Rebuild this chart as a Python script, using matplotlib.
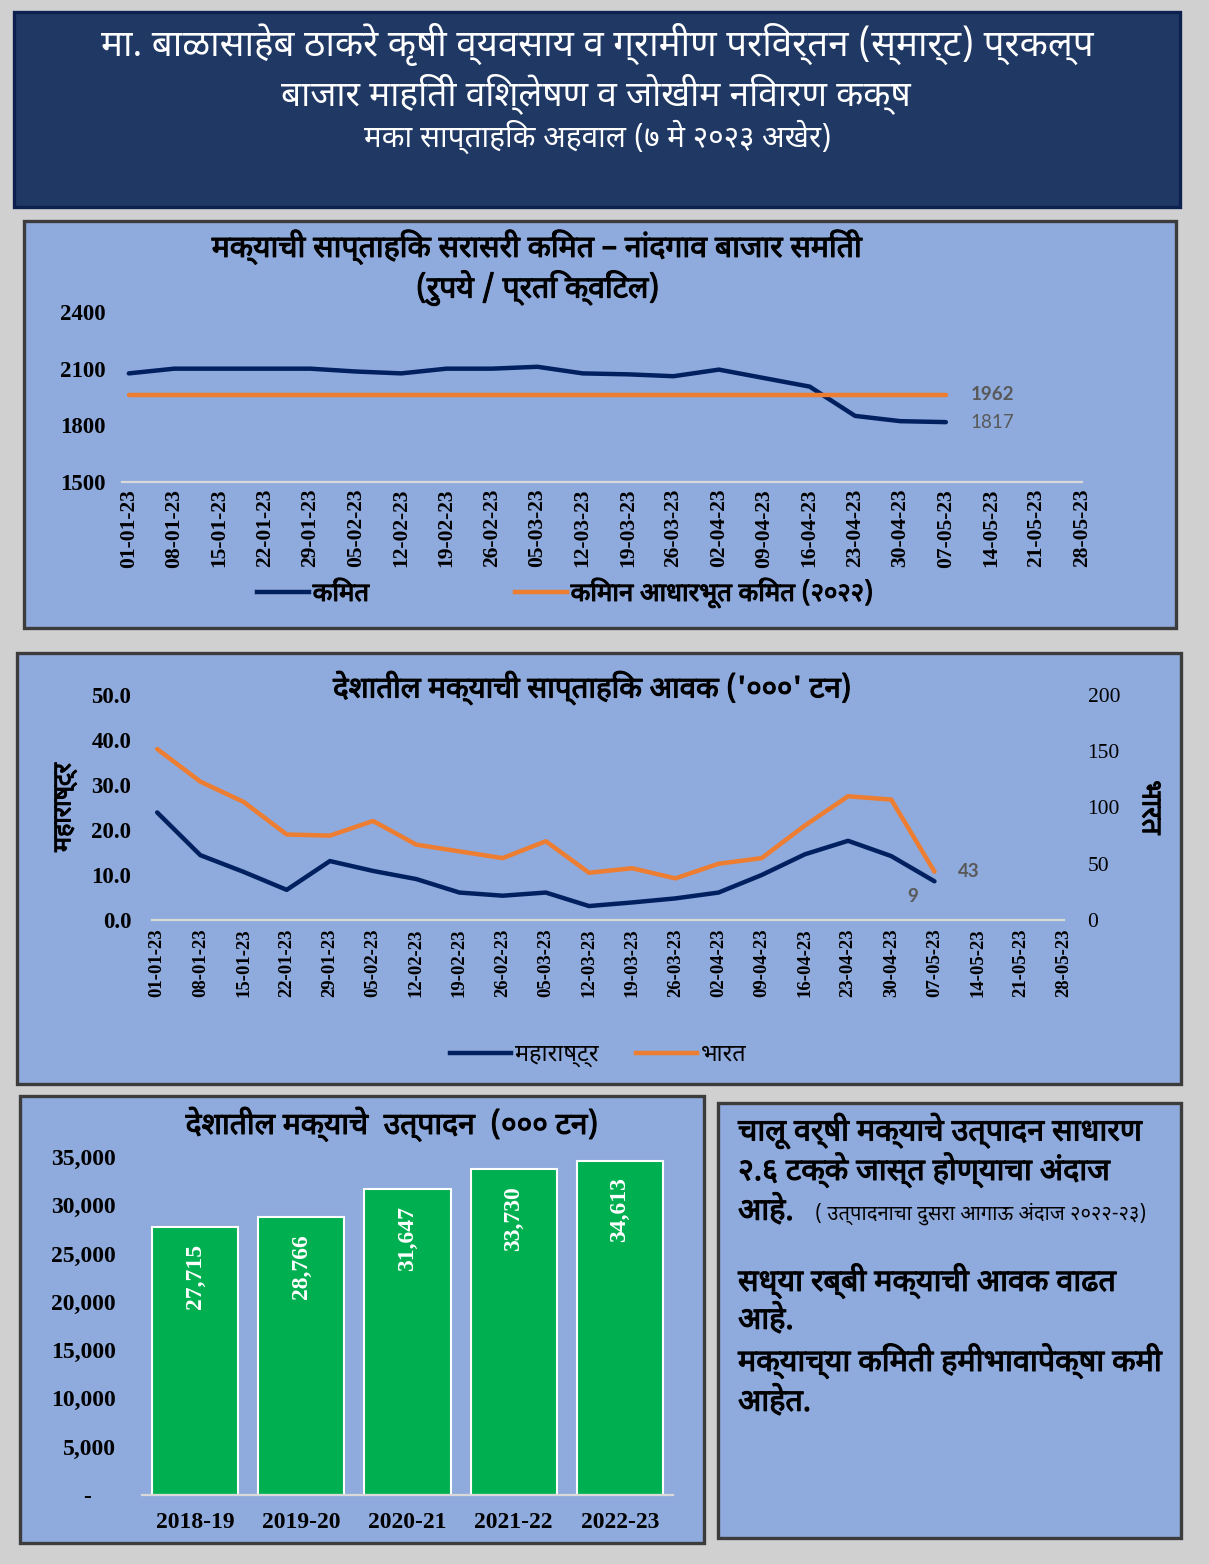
import numpy as np
import matplotlib
matplotlib.use("Agg")
import matplotlib.pyplot as plt
import matplotlib.font_manager as fm
import matplotlib.patheffects as pe
from matplotlib.ft2font import FT2Font
from matplotlib.patches import Rectangle
from matplotlib.lines import Line2D

# ---------------- data ----------------
weeks = ["01-01-23", "08-01-23", "15-01-23", "22-01-23", "29-01-23", "05-02-23",
         "12-02-23", "19-02-23", "26-02-23", "05-03-23", "12-03-23", "19-03-23",
         "26-03-23", "02-04-23", "09-04-23", "16-04-23", "23-04-23", "30-04-23",
         "07-05-23", "14-05-23", "21-05-23", "28-05-23"]

# Nandgaon weekly average price (Rs / quintal)
price = [2075, 2100, 2100, 2100, 2100, 2085, 2075, 2100, 2100, 2110, 2075,
         2070, 2060, 2095, 2050, 2005, 1850, 1822, 1817]
msp = [1962] * len(price)

# weekly arrivals ('000 t)
arr_mh = [23.9, 14.4, 10.7, 6.7, 13.1, 10.9, 9.1, 6.1, 5.4, 6.1, 3.1,
          3.9, 4.8, 6.1, 10.0, 14.6, 17.6, 14.2, 8.6]
arr_india = [152, 123, 105, 76, 75, 88, 67, 61, 55, 70, 42,
             46, 37, 50, 55, 84, 110, 107, 43]

# national production ('000 t)
years = ["2018-19", "2019-20", "2020-21", "2021-22", "2022-23"]
production = [27715, 28766, 31647, 33730, 34613]

# ---------------- fonts ----------------
def find_devanagari():
    found = []
    for f in fm.fontManager.ttflist:
        try:
            if 0x0915 in FT2Font(f.fname).get_charmap():
                found.append(f.name)
        except Exception:
            pass
    for pref in ["Noto Sans Devanagari", "Noto Sans Devanagari UI", "Lohit Devanagari",
                 "Mukta", "FreeSans", "Gargi"]:
        if pref in found:
            return pref
    return found[0] if found else "DejaVu Sans"

DEVA = [find_devanagari(), "DejaVu Sans"]
SERIF = "Liberation Serif"

W, H = 1209, 1564
NAVY = "#002060"
ORANGE = "#ed7d31"
PANEL = "#8faadc"
EDGE = "#3c3c3c"
BOLD = [pe.withStroke(linewidth=0.8, foreground="black")]

fig = plt.figure(figsize=(W / 100, H / 100), dpi=100)
fig.patch.set_facecolor("#d0d0d0")
renderer = fig.canvas.get_renderer()


def frac(x0, y0, x1, y1):
    return [x0 / W, 1 - y1 / H, (x1 - x0) / W, (y1 - y0) / H]


bg = fig.add_axes([0, 0, 1, 1])
bg.set_xlim(0, W)
bg.set_ylim(H, 0)
bg.axis("off")


def panel(x0, y0, x1, y1, face=PANEL, edge=EDGE):
    bg.add_patch(Rectangle((x0, y0), x1 - x0, y1 - y0, facecolor=face,
                           edgecolor=edge, lw=2.4))


def fit(x, y, s, width, ha="center", base=20, **kw):
    t = bg.text(x, y, s, fontsize=base, ha=ha, va="center", family=DEVA, **kw)
    w = t.get_window_extent(renderer).width
    t.set_fontsize(base * width / w)
    return t


panel(14, 12, 1180, 207, face="#203864", edge="#0c2150")
panel(24, 221, 1176, 628)
panel(17, 653, 1181, 1084)
panel(20, 1096, 704, 1543)
panel(718, 1103, 1181, 1538)

# ---------------- header ----------------
fit(597, 44, "मा. बाळासाहेब ठाकरे कृषी व्यवसाय व ग्रामीण परिवर्तन (स्मार्ट) प्रकल्प",
    995, color="white")
fit(596, 94, "बाजार माहिती विश्लेषण व जोखीम निवारण कक्ष", 632, color="white")
fit(598, 137, "मका साप्ताहिक अहवाल (७ मे २०२३ अखेर)", 467, color="white")


def style_axis(ax):
    ax.set_facecolor("none")
    for s in ["top", "left", "right"]:
        ax.spines[s].set_visible(False)
    ax.spines["bottom"].set_color("#d9d9d9")
    ax.spines["bottom"].set_linewidth(1.6)
    ax.tick_params(length=0)


# ---------------- chart 1: price ----------------
ax1 = fig.add_axes(frac(122, 312, 1082, 482))
style_axis(ax1)
x1 = np.arange(len(price))
ax1.plot(x1, price, color=NAVY, lw=3.2, solid_capstyle="round", solid_joinstyle="round")
ax1.plot(x1, msp, color=ORANGE, lw=3.2, solid_capstyle="round")
ax1.set_xlim(-0.15, len(weeks) - 1)
ax1.set_ylim(1500, 2400)
ax1.set_yticks([1500, 1800, 2100, 2400])
ax1.set_xticks(np.arange(len(weeks)))
ax1.set_xticklabels(weeks, rotation=90)
ax1.tick_params(axis="y", pad=12)
ax1.tick_params(axis="x", pad=5)
for lab in ax1.get_yticklabels():
    lab.set(family=SERIF, fontweight="bold", fontsize=16.5)
for lab in ax1.get_xticklabels():
    lab.set(family=SERIF, fontweight="bold", fontsize=15.5)
ax1.annotate(f"{msp[-1]}", (x1[-1], msp[-1]), xytext=(18, 0), textcoords="offset points",
             va="center", ha="left", fontsize=13.5, fontweight="bold", color="#595959",
             family="Lato")
ax1.annotate(f"{price[-1]}", (x1[-1], price[-1]), xytext=(18, 0), textcoords="offset points",
             va="center", ha="left", fontsize=13.5, color="#595959", family="Lato")

t1 = fit(538, 247, "मक्याची साप्ताहिक सरासरी किंमत – नांदगाव बाजार समिती", 652,
         color="black", path_effects=BOLD)
fs1 = t1.get_fontsize()
bg.text(538, 288, "(रुपये / प्रति क्विंटल)", fontsize=fs1, ha="center", va="center",
        family=DEVA, path_effects=BOLD)
leg1 = ax1.legend([Line2D([], [], color=NAVY, lw=3.2), Line2D([], [], color=ORANGE, lw=3.2)],
                  ["किंमत", "किमान आधारभूत किंमत (२०२२)"], ncol=2, frameon=False,
                  loc="center", bbox_to_anchor=((565 - 122) / 960, -(593 - 482) / 170),
                  handlelength=2.0, handletextpad=0.15, columnspacing=5.7,
                  prop={"family": DEVA, "size": fs1 * 0.85})
for txt in leg1.get_texts():
    txt.set_path_effects(BOLD)

# ---------------- chart 2: arrivals ----------------
ax2 = fig.add_axes(frac(152, 695, 1064, 920))
style_axis(ax2)
x2 = np.arange(len(arr_mh))
ax2.plot(x2, arr_mh, color=NAVY, lw=3.2, solid_capstyle="round", solid_joinstyle="round")
ax2.set_xlim(-0.12, len(weeks) - 1)
ax2.set_ylim(0, 50)
ax2.set_yticks(np.arange(0, 51, 10))
ax2.set_yticklabels([f"{v:.1f}" for v in np.arange(0, 51, 10)])
ax2.set_xticks(np.arange(len(weeks)))
ax2.set_xticklabels(weeks, rotation=90)
ax2.tick_params(axis="y", pad=15)
ax2.tick_params(axis="x", pad=6)
for lab in ax2.get_yticklabels():
    lab.set(family=SERIF, fontweight="bold", fontsize=16.5)
for lab in ax2.get_xticklabels():
    lab.set(family=SERIF, fontweight="bold", fontsize=13.5)

ax2r = ax2.twinx()
style_axis(ax2r)
ax2r.spines["bottom"].set_visible(False)
ax2r.plot(x2, arr_india, color=ORANGE, lw=3.2, solid_capstyle="round", solid_joinstyle="round")
ax2r.set_ylim(0, 200)
ax2r.set_yticks(np.arange(0, 201, 50))
ax2r.tick_params(axis="y", pad=17)
for lab in ax2r.get_yticklabels():
    lab.set(family=SERIF, fontsize=15.5)

ax2.annotate(f"{arr_mh[-1]:.0f}", (x2[-1], arr_mh[-1]), xytext=(-16, -11),
             textcoords="offset points", ha="center", va="center", fontsize=13.5,
             fontweight="bold", color="#595959", family="Lato")
ax2r.annotate(f"{arr_india[-1]}", (x2[-1], arr_india[-1]), xytext=(25, 0),
              textcoords="offset points", ha="center", va="center", fontsize=13.5,
              fontweight="bold", color="#595959", family="Lato")

t2 = fit(592, 688, "देशातील मक्याची साप्ताहिक आवक ('०००' टन)", 519,
         color="black", path_effects=BOLD)
fs2 = t2.get_fontsize()
ax2.text(-0.096, 0.5, "महाराष्ट्र", transform=ax2.transAxes, rotation=90, ha="center",
         va="center", family=DEVA, fontsize=fs2 * 0.85, path_effects=BOLD)
ax2r.text(1.094, 0.5, "भारत", transform=ax2r.transAxes, rotation=-90, ha="center",
          va="center", family=DEVA, fontsize=fs2 * 0.95, path_effects=BOLD)
ax2.legend([Line2D([], [], color=NAVY, lw=3.2), Line2D([], [], color=ORANGE, lw=3.2)],
           ["महाराष्ट्र", "भारत"], ncol=2, frameon=False, loc="center",
           bbox_to_anchor=((598 - 152) / 912, -(1055 - 920) / 225),
           handlelength=2.6, handletextpad=0.15, columnspacing=1.6,
           prop={"family": DEVA, "size": fs2 * 0.8})

# ---------------- chart 3: production ----------------
ax3 = fig.add_axes(frac(142, 1157, 673, 1495))
style_axis(ax3)
x3 = np.arange(len(years))
ax3.bar(x3, production, width=0.81, color="#00b050", edgecolor="white", lw=1.5)
ax3.set_xlim(-0.5, len(years) - 0.5)
ax3.set_ylim(0, 35000)
yt = np.arange(0, 35001, 5000)
ax3.set_yticks(yt)
ax3.set_yticklabels(["-    " if v == 0 else f"{v:,.0f}" for v in yt])
ax3.set_xticks(x3)
ax3.set_xticklabels(years)
ax3.tick_params(axis="y", pad=19)
ax3.tick_params(axis="x", pad=12)
for lab in ax3.get_yticklabels() + ax3.get_xticklabels():
    lab.set(family=SERIF, fontweight="bold", fontsize=17)
for xi, v in zip(x3, production):
    ax3.annotate(f"{v:,}", (xi, v), xytext=(0, -12), textcoords="offset points",
                 rotation=90, ha="center", va="top", color="white", fontsize=17,
                 fontweight="bold", family=SERIF)
fit(392, 1124, "देशातील मक्याचे  उत्पादन  (००० टन)", 413, color="black",
    path_effects=BOLD)

# ---------------- text box ----------------
tb = fit(738, 1131, "चालू वर्षी मक्याचे उत्पादन साधारण", 405, ha="left",
         color="black", path_effects=BOLD)
fsb = tb.get_fontsize()
lines = [(1170, "२.६ टक्के जास्त होण्याचा अंदाज"),
         (1211, "आहे."),
         (1281, "सध्या रब्बी मक्याची आवक वाढत"),
         (1320, "आहे."),
         (1361, "मक्याच्या किंमती हमीभावापेक्षा कमी"),
         (1402, "आहेत.")]
for yy, s in lines:
    bg.text(738, yy, s, fontsize=fsb, ha="left", va="center", family=DEVA,
            path_effects=BOLD)
note = bg.text(815, 1214, "( उत्पादनाचा दुसरा आगाऊ अंदाज २०२२-२३)", fontsize=10,
               ha="left", va="center", family=DEVA, style="italic")
note.set_fontsize(10 * 332 / note.get_window_extent(renderer).width)

fig.savefig("out.png", dpi=100, facecolor=fig.get_facecolor())
